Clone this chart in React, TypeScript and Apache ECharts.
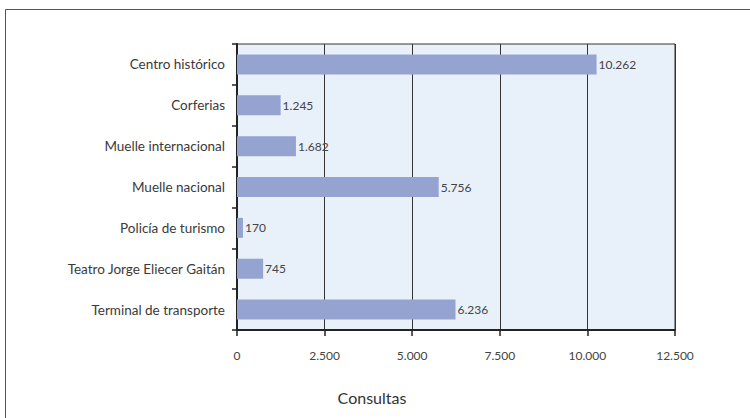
import React, { useEffect, useRef } from "react";
import * as echarts from "echarts";

const categories = [
  "Centro histórico",
  "Corferias",
  "Muelle internacional",
  "Muelle nacional",
  "Policía de turismo",
  "Teatro Jorge Eliecer Gaitán",
  "Terminal de transporte",
];
const values = [10262, 1245, 1682, 5756, 170, 745, 6236];
const axisTitle = "Consultas";

const fmt = (v: number) => String(Math.round(v)).replace(/\B(?=(\d{3})+(?!\d))/g, ".");

export default function App() {
  const ref = useRef<HTMLDivElement>(null);
  useEffect(() => {
    if (!ref.current) return;
    const chart = echarts.init(ref.current, null, { renderer: "svg" });
    const font = "Lato, 'Open Sans', sans-serif";
    chart.setOption({
      animation: false,
      textStyle: { fontFamily: font },
      graphic: [
        {
          type: "rect",
          shape: { x: 5.5, y: 9.5, width: 900, height: 600 },
          style: { fill: "none", stroke: "#555", lineWidth: 1 },
          z: 0,
        },
        {
          type: "text",
          x: 372,
          y: 397,
          style: {
            text: axisTitle,
            fill: "#333",
            fontSize: 16,
            fontFamily: font,
            align: "center",
            verticalAlign: "middle",
          },
        },
      ],
      grid: {
        left: 237,
        right: 75,
        top: 44,
        bottom: 88,
        show: true,
        backgroundColor: "#e8f0f9",
        borderColor: "#333",
        borderWidth: 1,
      },
      xAxis: {
        type: "value",
        min: 0,
        max: 12500,
        interval: 2500,
        axisLine: { show: true, lineStyle: { color: "#222", width: 2 } },
        axisTick: { show: true, length: 6, lineStyle: { color: "#222", width: 1.5 } },
        axisLabel: { color: "#444", fontSize: 12, margin: 19, formatter: (v: number) => fmt(v) },
        splitLine: { show: true, lineStyle: { color: "#333", width: 1 } },
      },
      yAxis: {
        type: "category",
        data: categories,
        inverse: true,
        axisLine: { show: true, lineStyle: { color: "#222", width: 2 } },
        axisTick: { show: true, length: 5, lineStyle: { color: "#222", width: 1.5 } },
        axisLabel: { color: "#3a3a3a", fontSize: 13.5, margin: 12 },
        splitLine: { show: false },
      },
      series: [
        {
          type: "bar",
          data: values,
          barWidth: 20,
          itemStyle: { color: "#95a3d1" },
          label: {
            show: true,
            position: "right",
            distance: 2,
            color: "#444",
            fontSize: 12,
            formatter: (p: any) => fmt(p.value),
          },
        },
      ],
    });
    return () => chart.dispose();
  }, []);
  return (
    <div
      ref={ref}
      style={{ position: "fixed", left: 0, top: 0, width: 750, height: 418, background: "#fff" }}
    />
  );
}
